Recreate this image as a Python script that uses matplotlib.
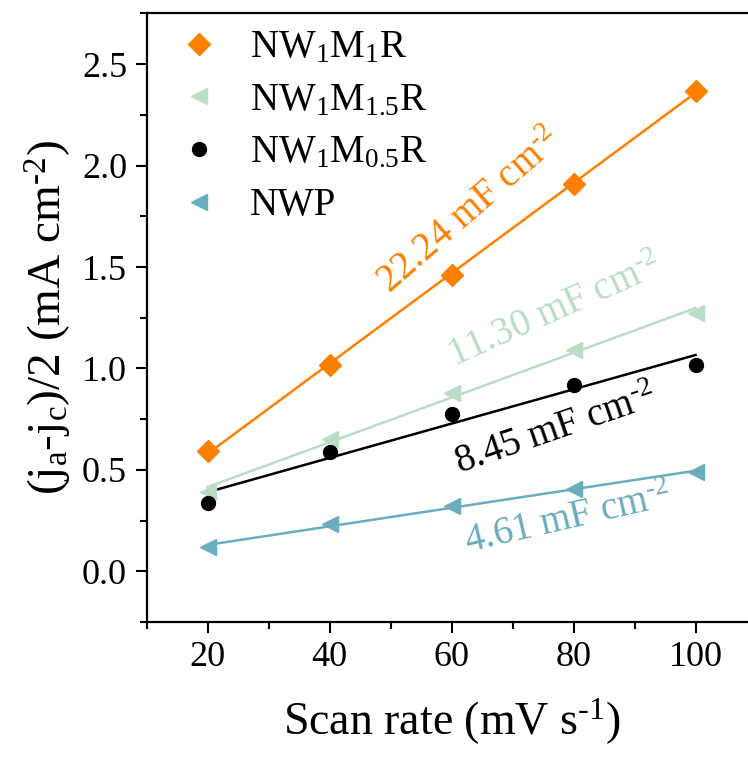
import matplotlib
matplotlib.use("Agg")
import matplotlib.pyplot as plt
import numpy as np
from matplotlib.ticker import MultipleLocator

plt.rcParams['font.family'] = ['Liberation Serif', 'DejaVu Serif']
plt.rcParams['mathtext.fontset'] = 'custom'
plt.rcParams['mathtext.rm'] = 'Liberation Serif'
plt.rcParams['mathtext.it'] = 'Liberation Serif'

# dados
scan_rate = [20, 40, 60, 80, 100]
nw1m1r = [0.592, 1.015, 1.460, 1.910, 2.369]
nw1m15r = [0.390, 0.650, 0.879, 1.092, 1.272]
nw1m05r = [0.339, 0.587, 0.777, 0.920, 1.018]
nwp = [0.118, 0.232, 0.322, 0.404, 0.489]

labels = [r'NW$_\mathrm{1}$M$_\mathrm{1}$R', r'NW$_\mathrm{1}$M$_\mathrm{1.5}$R',
          r'NW$_\mathrm{1}$M$_\mathrm{0.5}$R', 'NWP']
cdl_text = [r'22.24 mF cm$^\text{-2}$', r'11.30 mF cm$^\text{-2}$',
            r'8.45 mF cm$^\text{-2}$', r'4.61 mF cm$^\text{-2}$']

cores = ['#FF8000', '#B9DEC5', '#000000', '#6AADBF']
marcadores = ['D', '<', 'o', '<']
tamanhos = [11, 12, 10, 12]

fig = plt.figure(figsize=(7.48, 7.58), dpi=100)
ax = fig.add_axes([0.1959, 0.1794, 0.8155, 0.8028])

series = [nw1m1r, nw1m15r, nw1m05r, nwp]
x = np.array(scan_rate)
for y, c, m, s, lab in zip(series, cores, marcadores, tamanhos, labels):
    # reta ajustada
    a, b = np.polyfit(x, y, 1)
    ax.plot(x, a * x + b, color=c, lw=1.8, zorder=2)
    ax.plot(x, y, linestyle='none', marker=m, ms=s, color=c, label=lab, zorder=3)

# textos das capacitâncias
ax.text(63, 1.77, cdl_text[0], color=cores[0], fontsize=28, rotation=41, ha='center', va='center')
ax.text(77, 1.28, cdl_text[1], color=cores[1], fontsize=28, rotation=24, ha='center', va='center')
ax.text(77, 0.69, cdl_text[2], color=cores[2], fontsize=28, rotation=19, ha='center', va='center')
ax.text(79, 0.25, cdl_text[3], color=cores[3], fontsize=28, rotation=13, ha='center', va='center')

ax.set_xlim(10, 110)
ax.set_ylim(-0.25, 2.75)
ax.xaxis.set_major_locator(MultipleLocator(20))
ax.xaxis.set_minor_locator(MultipleLocator(10))
ax.yaxis.set_major_locator(MultipleLocator(0.5))
ax.yaxis.set_minor_locator(MultipleLocator(0.25))
ax.set_xticks([20, 40, 60, 80, 100])
ax.tick_params(which='major', direction='out', length=8, width=1.5, labelsize=26, pad=6)
ax.tick_params(which='minor', direction='out', length=5, width=1.5)
for sp in ax.spines.values():
    sp.set_linewidth(1.6)

ax.set_xlabel(r'Scan rate (mV s$^\text{-1}$)', fontsize=33, labelpad=16)
ax.set_ylabel(r'(j$_\mathrm{a}$-j$_\mathrm{c}$)/2 (mA cm$^\text{-2}$)', fontsize=34, labelpad=6)

ax.legend(loc='upper left', bbox_to_anchor=(0.0, 1.012), frameon=False, fontsize=28,
          handletextpad=0.55, labelspacing=0.4, borderaxespad=0.2, handlelength=1.5)

fig.savefig('out.png', dpi=100)
